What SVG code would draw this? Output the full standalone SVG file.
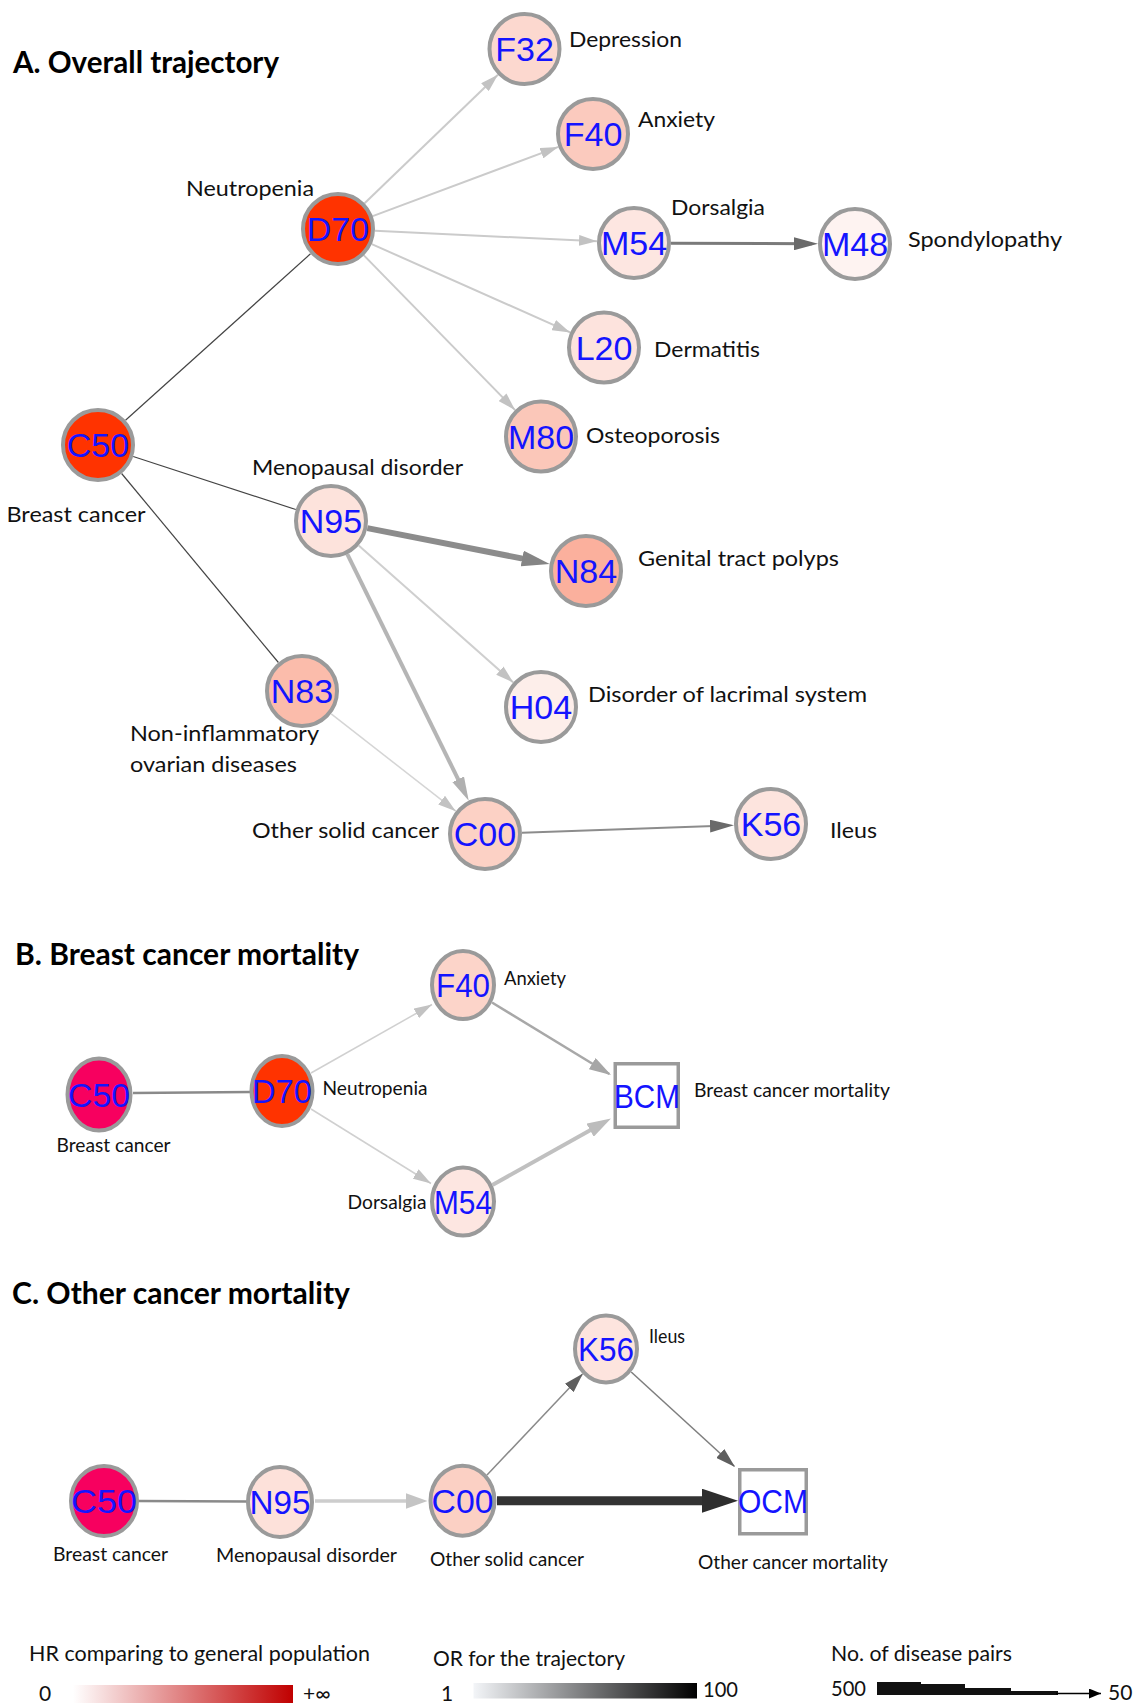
<svg xmlns="http://www.w3.org/2000/svg" width="1138" height="1703" viewBox="0 0 1138 1703">
<style>
.nd{stroke:#9a9a9a;stroke-width:4}
.bx{fill:#ffffff;stroke:#9a9a9a;stroke-width:3.5}
.code{font-family:"Liberation Sans",Arial,sans-serif;font-size:34px;fill:#1414ff;text-anchor:middle}
.lbl{font-family:Lato,"Open Sans",sans-serif;font-size:22px;fill:#111111}
.lbs{font-family:Lato,"Open Sans",sans-serif;font-size:20px;fill:#111111}
.ttl{font-family:Lato,"Open Sans",sans-serif;font-size:30px;font-weight:bold;fill:#000000}
.leg{font-family:Lato,"Open Sans",sans-serif;font-size:21px;fill:#111111}
.e{fill:none;stroke-linecap:butt}
</style>
<defs>
<marker id="aLight" markerUnits="userSpaceOnUse" markerWidth="18" markerHeight="11" refX="18" refY="5.5" orient="auto"><path d="M0,0 L18,5.5 L0,11 z" fill="#c2c2c2"/></marker>
<marker id="aMid" markerUnits="userSpaceOnUse" markerWidth="24" markerHeight="13" refX="16" refY="6.5" orient="auto"><path d="M0,0 L24,6.5 L0,13 z" fill="#b0b0b0"/></marker>
<marker id="aDark" markerUnits="userSpaceOnUse" markerWidth="24" markerHeight="13" refX="18" refY="6.5" orient="auto"><path d="M0,0 L24,6.5 L0,13 z" fill="#6a6a6a"/></marker>
<marker id="aN84" markerUnits="userSpaceOnUse" markerWidth="28" markerHeight="16" refX="16" refY="8" orient="auto"><path d="M0,0 L28,8 L0,16 z" fill="#858585"/></marker>
<marker id="aF40" markerUnits="userSpaceOnUse" markerWidth="22" markerHeight="13" refX="20" refY="6.5" orient="auto"><path d="M0,0 L22,6.5 L0,13 z" fill="#a6a6a6"/></marker>
<marker id="aM54" markerUnits="userSpaceOnUse" markerWidth="24" markerHeight="15" refX="16" refY="7.5" orient="auto"><path d="M0,0 L24,7.5 L0,15 z" fill="#bcbcbc"/></marker>
<marker id="aN95" markerUnits="userSpaceOnUse" markerWidth="22" markerHeight="16" refX="16" refY="8" orient="auto"><path d="M0,0 L22,8 L0,16 z" fill="#c4c4c4"/></marker>
<marker id="aDark2" markerUnits="userSpaceOnUse" markerWidth="20" markerHeight="12" refX="19" refY="6" orient="auto"><path d="M0,0 L20,6 L0,12 z" fill="#5f5f5f"/></marker>
<marker id="aBig" markerUnits="userSpaceOnUse" markerWidth="36" markerHeight="24" refX="21" refY="12" orient="auto"><path d="M0,0 L36,12 L0,24 z" fill="#2e2e2e"/></marker>
<marker id="aLeg" markerUnits="userSpaceOnUse" markerWidth="12" markerHeight="10" refX="12" refY="5" orient="auto"><path d="M0,0 L12,5 L0,10 z" fill="#000000"/></marker>
<linearGradient id="gHR" x1="0" y1="0" x2="1" y2="0"><stop offset="0" stop-color="#ffffff"/><stop offset="1" stop-color="#c00000"/></linearGradient>
<linearGradient id="gOR" x1="0" y1="0" x2="1" y2="0"><stop offset="0" stop-color="#f3f5f8"/><stop offset="1" stop-color="#000000"/></linearGradient>
</defs>
<rect width="1138" height="1703" fill="#ffffff"/>

<g id="titles">
<text class="ttl" x="13" y="73" textLength="266" lengthAdjust="spacingAndGlyphs">A. Overall trajectory</text>
<text class="ttl" x="15" y="965" textLength="344" lengthAdjust="spacingAndGlyphs">B. Breast cancer mortality</text>
<text class="ttl" x="12" y="1304" textLength="338" lengthAdjust="spacingAndGlyphs">C. Other cancer mortality</text>
</g>

<g id="connectors">
<!-- A -->
<line class="e" x1="364.6" y1="203.3" x2="497.9" y2="74.7" stroke="#cbcbcb" stroke-width="2" marker-end="url(#aLight)"/>
<line class="e" x1="372.7" y1="216.1" x2="558.3" y2="146.9" stroke="#cbcbcb" stroke-width="2" marker-end="url(#aLight)"/>
<line class="e" x1="375" y1="230.7" x2="597" y2="241.3" stroke="#cbcbcb" stroke-width="2" marker-end="url(#aLight)"/>
<line class="e" x1="371.8" y1="244.1" x2="570.2" y2="332.4" stroke="#cbcbcb" stroke-width="2" marker-end="url(#aLight)"/>
<line class="e" x1="363.9" y1="255.4" x2="515.1" y2="410.1" stroke="#cbcbcb" stroke-width="2" marker-end="url(#aLight)"/>
<line class="e" x1="125.5" y1="420.2" x2="310.5" y2="253.8" stroke="#444444" stroke-width="1.2"/>
<line class="e" x1="671" y1="243.2" x2="812" y2="243.8" stroke="#7a7a7a" stroke-width="3" marker-end="url(#aDark)"/>
<line class="e" x1="133.2" y1="456.5" x2="295.8" y2="509.5" stroke="#444444" stroke-width="1.2"/>
<line class="e" x1="121.6" y1="473.5" x2="278.4" y2="662.5" stroke="#444444" stroke-width="1.2"/>
<line class="e" x1="367.3" y1="528.1" x2="537.9" y2="561.6" stroke="#8c8c8c" stroke-width="6" marker-end="url(#aN84)"/>
<line class="e" x1="358.7" y1="545.5" x2="513.3" y2="682.5" stroke="#cfcfcf" stroke-width="2" marker-end="url(#aLight)"/>
<line class="e" x1="347.3" y1="554.2" x2="465.2" y2="793.6" stroke="#b5b5b5" stroke-width="4" marker-end="url(#aMid)"/>
<line class="e" x1="331.2" y1="713.8" x2="455.8" y2="811.2" stroke="#d5d5d5" stroke-width="1.5" marker-end="url(#aLight)"/>
<line class="e" x1="522" y1="832.7" x2="728" y2="825.5" stroke="#8c8c8c" stroke-width="2" marker-end="url(#aDark)"/>
<!-- B -->
<line class="e" x1="133" y1="1093" x2="250" y2="1092" stroke="#8a8a8a" stroke-width="2.5"/>
<line class="e" x1="311" y1="1073" x2="432" y2="1004.5" stroke="#d0d0d0" stroke-width="1.5" marker-end="url(#aLight)"/>
<line class="e" x1="311" y1="1109" x2="431" y2="1183.5" stroke="#d0d0d0" stroke-width="1.5" marker-end="url(#aLight)"/>
<line class="e" x1="492" y1="1002.5" x2="609.3" y2="1074" stroke="#a8a8a8" stroke-width="2.5" marker-end="url(#aF40)"/>
<line class="e" x1="492.4" y1="1185" x2="604" y2="1122.4" stroke="#c0c0c0" stroke-width="4" marker-end="url(#aM54)"/>
<!-- C -->
<line class="e" x1="137" y1="1501" x2="248" y2="1501.5" stroke="#8a8a8a" stroke-width="2.5"/>
<line class="e" x1="315" y1="1501" x2="421.5" y2="1501" stroke="#cdcdcd" stroke-width="3.5" marker-end="url(#aN95)"/>
<line class="e" x1="487" y1="1475" x2="582.3" y2="1374.2" stroke="#8a8a8a" stroke-width="1.5" marker-end="url(#aDark2)"/>
<line class="e" x1="631.2" y1="1372" x2="734.3" y2="1466.3" stroke="#7e7e7e" stroke-width="1.5" marker-end="url(#aDark2)"/>
<line class="e" x1="497" y1="1500.7" x2="723" y2="1500.7" stroke="#333333" stroke-width="9" marker-end="url(#aBig)"/>
</g>

<!-- Section A nodes -->
<g id="A-F32"><circle class="nd" cx="524.5" cy="49" r="35" fill="#fcd8cf"/><text class="code" x="524.5" y="61">F32</text><text class="lbl" x="569" y="47" textLength="113" lengthAdjust="spacingAndGlyphs">Depression</text></g>
<g id="A-F40"><circle class="nd" cx="593" cy="134" r="35" fill="#fbcabe"/><text class="code" x="593" y="146">F40</text><text class="lbl" x="638" y="127" textLength="77" lengthAdjust="spacingAndGlyphs">Anxiety</text></g>
<g id="A-D70"><circle class="nd" cx="338" cy="229" r="35" fill="#ff3300"/><text class="code" x="338" y="241">D70</text><text class="lbl" x="186" y="195.5" textLength="128" lengthAdjust="spacingAndGlyphs">Neutropenia</text></g>
<g id="A-M54"><circle class="nd" cx="634" cy="243" r="35" fill="#fde6e1"/><text class="code" x="634" y="255">M54</text><text class="lbl" x="671" y="215" textLength="94" lengthAdjust="spacingAndGlyphs">Dorsalgia</text></g>
<g id="A-M48"><circle class="nd" cx="855" cy="244" r="35" fill="#fef3f1"/><text class="code" x="855" y="256">M48</text><text class="lbl" x="908" y="246.5" textLength="154" lengthAdjust="spacingAndGlyphs">Spondylopathy</text></g>
<g id="A-L20"><circle class="nd" cx="604" cy="347.5" r="35" fill="#fde3dd"/><text class="code" x="604" y="359.5">L20</text><text class="lbl" x="654" y="357" textLength="106" lengthAdjust="spacingAndGlyphs">Dermatitis</text></g>
<g id="A-M80"><circle class="nd" cx="541" cy="436.5" r="35" fill="#fbc7b9"/><text class="code" x="541" y="448.5">M80</text><text class="lbl" x="586" y="443" textLength="134" lengthAdjust="spacingAndGlyphs">Osteoporosis</text></g>
<g id="A-C50"><circle class="nd" cx="98" cy="445" r="35" fill="#ff3300"/><text class="code" x="98" y="457">C50</text><text class="lbl" x="6.5" y="522" textLength="139" lengthAdjust="spacingAndGlyphs">Breast cancer</text></g>
<g id="A-N95"><circle class="nd" cx="331" cy="521" r="35" fill="#fde3dc"/><text class="code" x="331" y="533">N95</text><text class="lbl" x="252" y="474.5" textLength="211" lengthAdjust="spacingAndGlyphs">Menopausal disorder</text></g>
<g id="A-N84"><circle class="nd" cx="586" cy="571" r="35" fill="#fbb09d"/><text class="code" x="586" y="583">N84</text><text class="lbl" x="638" y="566" textLength="201" lengthAdjust="spacingAndGlyphs">Genital tract polyps</text></g>
<g id="A-N83"><circle class="nd" cx="302" cy="691" r="35" fill="#fbbcab"/><text class="code" x="302" y="703">N83</text><text class="lbl" x="130" y="740.5" textLength="189" lengthAdjust="spacingAndGlyphs">Non-inflammatory</text><text class="lbl" x="130" y="772" textLength="167" lengthAdjust="spacingAndGlyphs">ovarian diseases</text></g>
<g id="A-H04"><circle class="nd" cx="541" cy="707" r="35" fill="#fdeeea"/><text class="code" x="541" y="719">H04</text><text class="lbl" x="588" y="701.5" textLength="279" lengthAdjust="spacingAndGlyphs">Disorder of lacrimal system</text></g>
<g id="A-C00"><circle class="nd" cx="485" cy="834" r="35" fill="#fcd1c5"/><text class="code" x="485" y="846">C00</text><text class="lbl" x="252" y="838" textLength="187" lengthAdjust="spacingAndGlyphs">Other solid cancer</text></g>
<g id="A-K56"><circle class="nd" cx="771" cy="824" r="35" fill="#fde4de"/><text class="code" x="771" y="836">K56</text><text class="lbl" x="830" y="838" textLength="47" lengthAdjust="spacingAndGlyphs">Ileus</text></g>

<!-- Section B nodes -->
<g id="B-C50"><ellipse class="nd" cx="99" cy="1094.5" rx="31.5" ry="36" fill="#f7005f"/><text class="code" x="99" y="1106.5" textLength="62" lengthAdjust="spacingAndGlyphs">C50</text><text class="lbs" x="56.5" y="1152" textLength="114" lengthAdjust="spacingAndGlyphs">Breast cancer</text></g>
<g id="B-D70"><ellipse class="nd" cx="282" cy="1091" rx="30.5" ry="35" fill="#ff3300"/><text class="code" x="282" y="1103" textLength="60" lengthAdjust="spacingAndGlyphs">D70</text><text class="lbs" x="322.5" y="1094.5" textLength="105" lengthAdjust="spacingAndGlyphs">Neutropenia</text></g>
<g id="B-F40"><ellipse class="nd" cx="463" cy="985" rx="31" ry="34" fill="#fcd4c9"/><text class="code" x="463" y="997" textLength="54" lengthAdjust="spacingAndGlyphs">F40</text><text class="lbs" x="504" y="985" font-size="18" textLength="62" lengthAdjust="spacingAndGlyphs">Anxiety</text></g>
<g id="B-M54"><ellipse class="nd" cx="463" cy="1201.5" rx="31" ry="34" fill="#fde6e1"/><text class="code" x="463" y="1213.5" textLength="58" lengthAdjust="spacingAndGlyphs">M54</text><text class="lbs" x="347.5" y="1208.5" textLength="79" lengthAdjust="spacingAndGlyphs">Dorsalgia</text></g>
<g id="B-BCM"><rect class="bx" x="615.25" y="1063.75" width="63" height="63.5"/><text class="code" x="647" y="1108" textLength="66" lengthAdjust="spacingAndGlyphs">BCM</text><text class="lbs" x="694" y="1097" textLength="196" lengthAdjust="spacingAndGlyphs">Breast cancer mortality</text></g>

<!-- Section C nodes -->
<g id="C-K56"><ellipse class="nd" cx="606" cy="1349" rx="31" ry="33.5" fill="#fde4de"/><text class="code" x="606" y="1361" textLength="56" lengthAdjust="spacingAndGlyphs">K56</text><text class="lbs" x="649" y="1343" font-size="17" textLength="36" lengthAdjust="spacingAndGlyphs">Ileus</text></g>
<g id="C-C50"><ellipse class="nd" cx="104" cy="1501" rx="33" ry="35" fill="#f7005f"/><text class="code" x="104" y="1513" textLength="66" lengthAdjust="spacingAndGlyphs">C50</text><text class="lbs" x="53" y="1560.5" textLength="115" lengthAdjust="spacingAndGlyphs">Breast cancer</text></g>
<g id="C-N95"><ellipse class="nd" cx="280" cy="1502" rx="32" ry="35" fill="#fde1da"/><text class="code" x="280" y="1514" textLength="61" lengthAdjust="spacingAndGlyphs">N95</text><text class="lbs" x="216" y="1561.5" textLength="181" lengthAdjust="spacingAndGlyphs">Menopausal disorder</text></g>
<g id="C-C00"><ellipse class="nd" cx="462.5" cy="1500.7" rx="32" ry="35" fill="#fbd0c4"/><text class="code" x="462.5" y="1512.7" textLength="62" lengthAdjust="spacingAndGlyphs">C00</text><text class="lbs" x="430" y="1566" textLength="154" lengthAdjust="spacingAndGlyphs">Other solid cancer</text></g>
<g id="C-OCM"><rect class="bx" x="739.75" y="1469.75" width="66.5" height="64"/><text class="code" x="773" y="1513" textLength="70" lengthAdjust="spacingAndGlyphs">OCM</text><text class="lbs" x="698" y="1569" textLength="190" lengthAdjust="spacingAndGlyphs">Other cancer mortality</text></g>

<!-- Legend -->
<g id="legend-HR">
<text class="leg" x="29" y="1661" textLength="341" lengthAdjust="spacingAndGlyphs">HR comparing to general population</text>
<text class="leg" x="39" y="1701" font-size="22">0</text>
<rect x="73" y="1685" width="220" height="18" fill="url(#gHR)"/>
<text class="leg" x="303" y="1701" font-size="20">+∞</text>
</g>
<g id="legend-OR">
<text class="leg" x="433" y="1665.5" textLength="192" lengthAdjust="spacingAndGlyphs">OR for the trajectory</text>
<text class="leg" x="441" y="1701" font-size="22">1</text>
<rect x="473.5" y="1683" width="223.5" height="15.5" fill="url(#gOR)"/>
<text class="leg" x="703" y="1697" font-size="22" textLength="35" lengthAdjust="spacingAndGlyphs">100</text>
</g>
<g id="legend-pairs">
<text class="leg" x="831" y="1661" textLength="181" lengthAdjust="spacingAndGlyphs">No. of disease pairs</text>
<text class="leg" x="831" y="1696" font-size="22" textLength="35" lengthAdjust="spacingAndGlyphs">500</text>
<polygon points="877,1682 921,1682 921,1684 965,1684 965,1688 1011,1688 1011,1691 1058,1691 1058,1695 877,1695" fill="#111111"/>
<line x1="1056" y1="1693.5" x2="1101" y2="1693.5" stroke="#000000" stroke-width="1.5" marker-end="url(#aLeg)"/>
<text class="leg" x="1108" y="1700" font-size="22">50</text>
</g>
</svg>
